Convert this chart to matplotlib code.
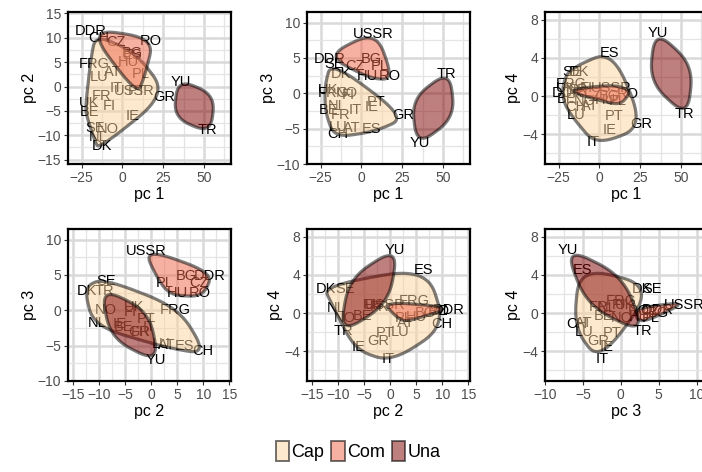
import numpy as np
import matplotlib
matplotlib.use("Agg")
import matplotlib.pyplot as plt
from matplotlib.patches import Polygon, Patch
from matplotlib.colors import to_rgba

plt.rcParams['font.family'] = ['Liberation Sans', 'DejaVu Sans']

# scores
countries = ['BE', 'DK', 'FR', 'FRG', 'IE', 'IT', 'LU', 'NL', 'UK', 'AT', 'FI', 'GR', 'NO',
             'PT', 'ES', 'SE', 'CH', 'BG', 'CZ', 'DDR', 'HU', 'PL', 'RO', 'USSR', 'TR', 'YU']
groups = ['Cap'] * 17 + ['Com'] * 7 + ['Una'] * 2
pc1 = [-20, -12.5, -12.5, -17.5, 6, -4, -14, -15, -20.5, -6, -8, 25.5, -9,
       9, 6, -16.5, -14.5, 6, -4, -19.5, 3.5, 11.5, 17.5, 7, 52, 36]
pc2 = [-5.3, -12.2, -2.0, 4.6, -6.1, -0.4, 2.0, -10.4, -3.3, 3.0, -3.9, -2.2, -8.7,
       -0.9, 6.4, -8.6, 10, 6.8, 9.1, 11.3, 5.0, 2.6, 9.3, -1.0, -9, 0.9]
pc3 = [-2.3, 2.8, -3.0, 0.0, -1.9, -2.4, -4.8, -1.8, 0.5, -4.9, -0.3, -3.0, 0.1,
       -1.2, -5.0, 4.1, -5.8, 4.9, 3.8, 4.9, 2.5, 3.9, 2.4, 8.4, 2.8, -7.0]
pc4 = [-0.3, 2.5, 0.6, 1.3, -3.5, -4.8, -2.0, 0.5, 0.8, -1.0, 0.8, -2.9, -0.5,
       -2.1, 4.5, 2.5, -1.1, 0.0, 0.2, 0.3, -0.4, -0.5, 0.2, 0.9, -1.9, 6.6]

group_names = ['Cap', 'Com', 'Una']
group_fills = ['#fdd49e', '#ef6548', '#7f0000']

scores = {'pc 1': np.array(pc1), 'pc 2': np.array(pc2), 'pc 3': np.array(pc3), 'pc 4': np.array(pc4)}
lims = {'pc 1': (-33.3, 66.5), 'pc 2': (-15.9, 15.3), 'pc 3': (-10.0, 11.5), 'pc 4': (-7.1, 8.8)}
ticks = {'pc 1': [-25, 0, 25, 50], 'pc 2': [-15, -10, -5, 0, 5, 10, 15],
         'pc 3': [-10, -5, 0, 5, 10], 'pc 4': [-4, 0, 4, 8]}
pairs = [('pc 1', 'pc 2'), ('pc 1', 'pc 3'), ('pc 1', 'pc 4'),
         ('pc 2', 'pc 3'), ('pc 2', 'pc 4'), ('pc 3', 'pc 4')]


def f_blend(num, den):
    p = 2 * den * den
    u = num / den
    u2 = u * u
    return u * u2 * (10 - p + (2 * p - 15) * u + (6 - p) * u2)


def xspline_closed(px, py, s=0.5, n=25):
    m = len(px)
    xs, ys = [], []
    for k in range(m):
        idx = [(k - 1) % m, k, (k + 1) % m, (k + 2) % m]
        for t in np.linspace(0, 1, n, endpoint=False):
            a0 = f_blend(t - s, -1 - s) if t < s else 0.0
            a1 = f_blend(t - 1 - s, -1 - s)
            a2 = f_blend(t + s, 1 + s)
            a3 = f_blend(t - 1 + s, 1 + s) if t > 1 - s else 0.0
            w = np.array([a0, a1, a2, a3])
            xs.append(np.dot(w, px[idx]) / w.sum())
            ys.append(np.dot(w, py[idx]) / w.sum())
    return np.array(xs), np.array(ys)


def hull(pts):
    pts = sorted(map(tuple, pts))
    def cross(o, a, b):
        return (a[0] - o[0]) * (b[1] - o[1]) - (a[1] - o[1]) * (b[0] - o[0])
    lower, upper = [], []
    for p in pts:
        while len(lower) >= 2 and cross(lower[-2], lower[-1], p) <= 0:
            lower.pop()
        lower.append(p)
    for p in reversed(pts):
        while len(upper) >= 2 and cross(upper[-2], upper[-1], p) <= 0:
            upper.pop()
        upper.append(p)
    return np.array(lower[:-1] + upper[:-1])


def encircle(x, y, xl, yl, expand=0.02, spread=0.12):
    # work in panel (npc) units like the ggplot layer does
    nx = (x - xl[0]) / (xl[1] - xl[0])
    ny = (y - yl[0]) / (yl[1] - yl[0])
    mx, my = nx.mean(), ny.mean()
    if len(nx) == 2:
        d = np.array([nx[1] - nx[0], ny[1] - ny[0]])
        perp = np.array([-d[1], d[0]]) / np.hypot(*d)
        h = np.array([[nx[0], ny[0]],
                      [mx + spread * perp[0], my + spread * perp[1]],
                      [nx[1], ny[1]],
                      [mx - spread * perp[0], my - spread * perp[1]]])
    else:
        h = hull(np.column_stack([nx, ny]))
    hx = h[:, 0] + np.sign(h[:, 0] - mx) * expand
    hy = h[:, 1] + np.sign(h[:, 1] - my) * expand
    sx, sy = xspline_closed(hx, hy)
    return (xl[0] + sx * (xl[1] - xl[0]), yl[0] + sy * (yl[1] - yl[0]))


def fmt(v):
    return str(v).replace('-', '\u2212')


fig = plt.figure(figsize=(7.02, 4.72), dpi=100)

W, H = 702, 472
col_left = [68, 307, 545]
row_top = [12, 229]
aw, ah = 163, 152

grp = np.array(groups)
for i, (vx, vy) in enumerate(pairs):
    r, c = divmod(i, 3)
    ax = fig.add_axes([col_left[c] / W, 1 - (row_top[r] + ah) / H, aw / W, ah / H])
    xs, ys = scores[vx], scores[vy]
    tx, ty = ticks[vx], ticks[vy]
    ax.set_xticks(tx)
    ax.set_yticks(ty)
    ax.set_xticks([t + (tx[1] - tx[0]) / 2 for t in [tx[0] - (tx[1] - tx[0])] + tx], minor=True)
    ax.set_yticks([t + (ty[1] - ty[0]) / 2 for t in [ty[0] - (ty[1] - ty[0])] + ty], minor=True)
    ax.set_xlim(lims[vx])
    ax.set_ylim(lims[vy])
    ax.set_xticklabels([fmt(t) for t in tx])
    ax.set_yticklabels([fmt(t) for t in ty])
    ax.set_axisbelow(True)
    ax.grid(which='major', color='#D9D9D9', lw=1.8)
    ax.grid(which='minor', color='#E4E4E4', lw=0.9)
    ax.tick_params(which='major', length=3, width=0.8, color='#333333',
                   labelsize=10, labelcolor='#4D4D4D', pad=2)
    ax.tick_params(which='minor', length=0)
    for sp in ax.spines.values():
        sp.set_color('black')
        sp.set_linewidth(1.6)
    ax.set_xlabel(vx, fontsize=11.5, labelpad=1.5)
    ax.set_ylabel(vy, fontsize=11.5, labelpad=0.5)

    for name, px, py in zip(countries, xs, ys):
        ax.text(px, py, name, ha='center', va='center', fontsize=10.5, color='black', zorder=3)

    for g, fill in zip(group_names, group_fills):
        m = grp == g
        cx, cy = encircle(xs[m], ys[m], lims[vx], lims[vy])
        ax.add_patch(Polygon(np.column_stack([cx, cy]), closed=True,
                             facecolor=to_rgba(fill, 0.5), edgecolor=(0, 0, 0, 0.5),
                             lw=2.3, zorder=4))

handles = [Patch(facecolor=to_rgba(f, 0.5), edgecolor=(0, 0, 0, 0.55), lw=1.4) for f in group_fills]
fig.legend(handles, group_names, loc='lower center', bbox_to_anchor=(0.51, 0.0), ncol=3,
           frameon=False, fontsize=13, handlelength=0.75, handleheight=1.3,
           handletextpad=0.1, columnspacing=0.4, borderaxespad=0.2)

fig.savefig('out.png', dpi=100)
